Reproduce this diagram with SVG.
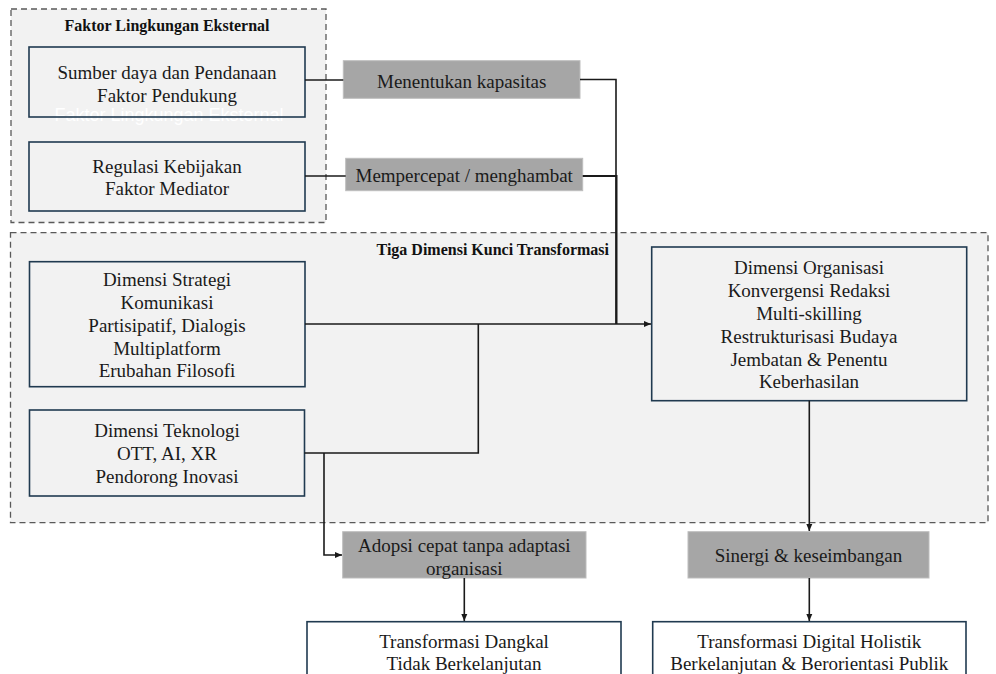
<svg xmlns="http://www.w3.org/2000/svg" width="996" height="674" viewBox="0 0 996 674">
<style>
.bg{fill:#ffffff}
.group{fill:#f2f2f2;stroke:#595959;stroke-width:1.3;stroke-dasharray:6 4}
.node{fill:#f2f2f2;stroke:#203a50;stroke-width:1.6}
.out{fill:#ffffff;stroke:#203a50;stroke-width:1.6}
.lbl{fill:#a6a6a6;stroke:#bdbdbd;stroke-width:1}
.t{font-family:'Liberation Serif','Times New Roman',Times,'DejaVu Serif',serif;font-size:19px;fill:#1a1a1a;text-anchor:middle}
.h{font-family:'Liberation Serif','Times New Roman',Times,'DejaVu Serif',serif;font-size:16px;font-weight:bold;fill:#111}
.ghost{font-family:'Liberation Sans',Arial,sans-serif;font-size:18px;fill:#ffffff;text-anchor:middle}
.c{fill:none;stroke:#1a1a1a;stroke-width:1.6}
</style>
<defs>
<marker id="arr" markerUnits="userSpaceOnUse" markerWidth="8" markerHeight="8" refX="7" refY="4" orient="auto">
<path d="M0,1 L7,4 L0,7 Z" fill="#1a1a1a"/>
</marker>
</defs>
<rect class="bg" x="0" y="0" width="996" height="674"/>

<g id="grp-eksternal">
<rect class="group" x="11" y="9" width="315" height="213.5"/>
<text class="h" x="167" y="30.5" text-anchor="middle" font-family="Liberation Serif, serif">Faktor Lingkungan Eksternal</text>
<text class="ghost" x="169" y="121" font-family="Liberation Sans, sans-serif">Faktor Lingkungan Eksternal</text>
</g>
<g id="grp-dimensi">
<rect class="group" x="10.5" y="232.7" width="977.5" height="290"/>
<text class="h" x="609" y="254.5" text-anchor="end" font-family="Liberation Serif, serif">Tiga Dimensi Kunci Transformasi</text>
</g>

<g id="node-sumber" font-family="Liberation Serif, serif">
<rect class="node" x="29" y="47" width="276" height="70" style="fill:none"/>
<text class="t" x="167" y="78.5">Sumber daya dan Pendanaan</text>
<text class="t" x="167" y="101.5">Faktor Pendukung</text>
</g>

<g id="node-regulasi">
<rect class="node" x="29" y="142" width="276" height="69"/>
<text class="t" x="167" y="172.5">Regulasi Kebijakan</text>
<text class="t" x="167" y="194.5">Faktor Mediator</text>
</g>

<g id="lbl-menentukan">
<rect class="lbl" x="343.3" y="60.7" width="236.7" height="37.6"/>
<text class="t" x="461.7" y="87.5">Menentukan kapasitas</text>
</g>
<g id="lbl-mempercepat">
<rect class="lbl" x="345.7" y="158.3" width="237" height="32.4"/>
<text class="t" x="464.2" y="181.5">Mempercepat / menghambat</text>
</g>

<g id="node-strategi">
<rect class="node" x="29.5" y="261.7" width="275.5" height="125"/>
<text class="t" x="167" y="285.5">Dimensi Strategi</text>
<text class="t" x="167" y="308.5">Komunikasi</text>
<text class="t" x="167" y="331.5">Partisipatif, Dialogis</text>
<text class="t" x="167" y="354.5">Multiplatform</text>
<text class="t" x="167" y="376.5">Erubahan Filosofi</text>
</g>

<g id="node-teknologi">
<rect class="node" x="29.5" y="410" width="275" height="86"/>
<text class="t" x="167" y="437">Dimensi Teknologi</text>
<text class="t" x="167" y="459.5">OTT, AI, XR</text>
<text class="t" x="167" y="482.5">Pendorong Inovasi</text>
</g>

<g id="node-organisasi">
<rect class="node" x="651.7" y="247" width="315" height="153.7"/>
<text class="t" x="809" y="274">Dimensi Organisasi</text>
<text class="t" x="809" y="296.5">Konvergensi Redaksi</text>
<text class="t" x="809" y="319.5">Multi-skilling</text>
<text class="t" x="809" y="343">Restrukturisasi Budaya</text>
<text class="t" x="809" y="365.5">Jembatan &amp; Penentu</text>
<text class="t" x="809" y="388">Keberhasilan</text>
</g>

<g id="lbl-adopsi">
<rect class="lbl" x="342.7" y="531.7" width="243.3" height="46.3"/>
<text class="t" x="464.3" y="551.5">Adopsi cepat tanpa adaptasi</text>
<text class="t" x="464.3" y="574.5">organisasi</text>
</g>
<g id="lbl-sinergi">
<rect class="lbl" x="688" y="531.7" width="241" height="46.3"/>
<text class="t" x="808.5" y="561.5">Sinergi &amp; keseimbangan</text>
</g>

<g id="node-dangkal">
<rect class="out" x="307" y="621.7" width="314" height="70"/>
<text class="t" x="464" y="648">Transformasi Dangkal</text>
<text class="t" x="464" y="669.5">Tidak Berkelanjutan</text>
</g>
<g id="node-holistik">
<rect class="out" x="652.7" y="621.7" width="313.3" height="70"/>
<text class="t" x="809.3" y="648">Transformasi Digital Holistik</text>
<text class="t" x="809.3" y="669.5">Berkelanjutan &amp; Berorientasi Publik</text>
</g>

<g id="connectors">
<path class="c" d="M305,80 H343.3"/>
<path class="c" d="M305,176 H345.7"/>
<path class="c" d="M580,79.5 H616 V324"/>
<path class="c" d="M582.7,176 H616.5 V324" style="stroke-width:2"/>
<path class="c" d="M305,324 H651" marker-end="url(#arr)"/>
<path class="c" d="M304.5,453 H478.3 V324"/>
<path class="c" d="M324,453 V555 H342" marker-end="url(#arr)"/>
<path class="c" d="M464.3,578 V621" marker-end="url(#arr)"/>
<path class="c" d="M809.3,400.7 V531" marker-end="url(#arr)"/>
<path class="c" d="M809.3,578 V621" marker-end="url(#arr)"/>
</g>
</svg>
